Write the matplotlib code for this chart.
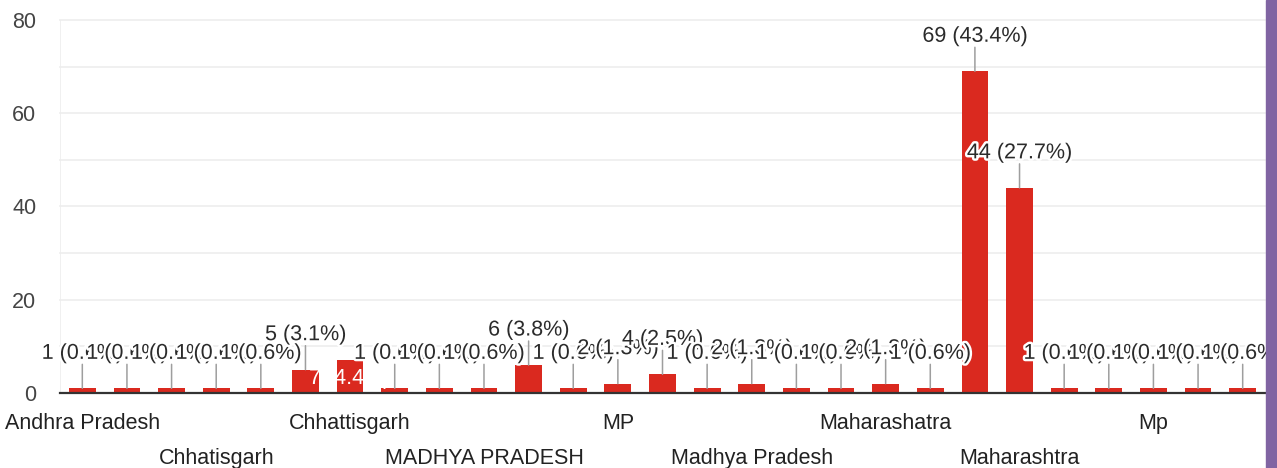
import matplotlib
matplotlib.use('Agg')
import matplotlib.pyplot as plt
import matplotlib.patheffects as pe
from matplotlib.patches import Rectangle

# answers per state (names of the bars without a visible label are not shown in the chart)
categories = ['Andhra Pradesh', '', '', 'Chhatisgarh', '', '', 'Chhattisgarh', '', '',
              'MADHYA PRADESH', '', '', 'MP', '', '', 'Madhya Pradesh', '', '',
              'Maharashatra', '', '', 'Maharashtra', '', '', 'Mp', '', '']
counts = [1, 1, 1, 1, 1, 5, 7, 1, 1, 1, 6, 1, 2, 4, 1, 2, 1, 1, 2, 1, 69, 44, 1, 1, 1, 1, 1]
inside_label = [6]  # label that Google put inside the bar in white
yticks = [0, 20, 40, 60, 80]

plt.rcParams['font.family'] = ['Liberation Sans', 'DejaVu Sans']

W, H = 1277, 468
fig = plt.figure(figsize=(W / 100, H / 100), dpi=100)
ax = fig.add_axes([60 / W, (H - 393) / H, (1265 - 60) / W, (393 - 20) / H])

total = sum(counts)
x = list(range(len(counts)))

for g in range(10, 81, 10):
    ax.axhline(g, color='#ededed', lw=1.2, zorder=0, clip_on=False)
ax.axvline(-0.5, color='#ededed', lw=1.2, zorder=0)
ax.bar(x, counts, width=0.6, color='#da291f', zorder=2)
ax.axhline(0, color='#333333', lw=1.6, zorder=5, clip_on=False)

halo = [pe.withStroke(linewidth=3.5, foreground='white')]
for i, v in enumerate(counts):
    txt = '%d (%.1f%%)' % (v, 100.0 * v / total)
    if i in inside_label:
        ax.annotate(txt, xy=(i, v), xytext=(0, -18), textcoords='offset pixels',
                    ha='center', va='center', fontsize=15.5, color='white', zorder=3)
        continue
    ax.annotate('', xy=(i, v), xytext=(0, 24), textcoords='offset pixels',
                arrowprops=dict(arrowstyle='-', color='#9e9e9e', lw=1.1,
                                shrinkA=0, shrinkB=0), zorder=3)
for i, v in enumerate(counts):
    if i in inside_label:
        continue
    txt = '%d (%.1f%%)' % (v, 100.0 * v / total)
    ax.annotate(txt, xy=(i, v), xytext=(0, 35), textcoords='offset pixels',
                ha='center', va='center', fontsize=15.5, color='#2b2b2b',
                path_effects=halo, zorder=4, annotation_clip=False)

ax.set_xlim(-0.5, len(counts) - 0.5)
ax.set_ylim(0, 80)
ax.set_yticks(yticks)
ax.set_yticklabels([str(t) for t in yticks], fontsize=15.5, color='#444444')
ax.tick_params(axis='y', length=0, pad=17)

named = [i for i, c in enumerate(categories) if c]
row1 = named[0::2]
row2 = named[1::2]
ax.set_xticks(row1)
ax.set_xticklabels([categories[i] for i in row1], fontsize=15.5, color='#222222')
ax.set_xticks(row2, minor=True)
ax.set_xticklabels([categories[i] for i in row2], minor=True, fontsize=15.5, color='#222222')
ax.tick_params(axis='x', which='major', length=0, pad=14.5)
ax.tick_params(axis='x', which='minor', length=0, pad=39.5)

for s in ax.spines.values():
    s.set_visible(False)

fig.add_artist(Rectangle((1266 / W, 0), 11 / W, 1, transform=fig.transFigure,
                         color='#8064a2', zorder=10))

fig.savefig('out.png', dpi=100)
